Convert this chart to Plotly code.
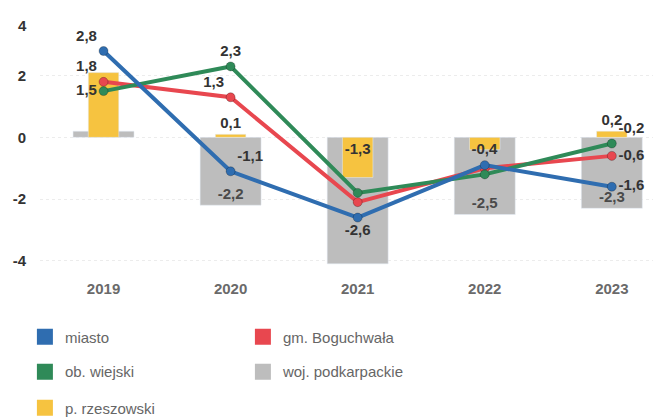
import plotly.graph_objects as go

years = ["2019", "2020", "2021", "2022", "2023"]
miasto = [2.8, -1.1, -2.6, -0.9, -1.6]
gm_boguchwala = [1.8, 1.3, -2.1, -1.0, -0.6]
ob_wiejski = [1.5, 2.3, -1.8, -1.2, -0.2]
woj_podkarpackie = [0.2, -2.2, -4.1, -2.5, -2.3]
p_rzeszowski = [2.1, 0.1, -1.3, -0.4, 0.2]

y_ticks = [-4, -2, 0, 2, 4]
y_ticktext = ["-4", "-2", "0", "2", "4"]

# which points carry a data label
miasto_lbl = [True, True, True, False, True]
gm_lbl = [True, True, False, False, True]
ob_lbl = [True, True, False, False, True]
woj_lbl = [False, True, False, True, True]
p_lbl = [False, True, True, True, True]

C_BLUE = "#2f6db0"
C_RED = "#e8474f"
C_GREEN = "#2f8a58"
C_GRAY = "#bdbdbd"
C_YELLOW = "#f6c340"

FONT = "Liberation Sans, Arial, sans-serif"


def fmt(v):
    return f"{v:.1f}".replace(".", ",")


def labels(vals, flags):
    return [fmt(v) if f else "" for v, f in zip(vals, flags)]


fig = go.Figure()

fig.add_trace(go.Bar(
    x=years, y=woj_podkarpackie, width=0.48, marker_color=C_GRAY,
    text=labels(woj_podkarpackie, woj_lbl), textposition="inside",
    insidetextanchor="end", textangle=0,
    textfont=dict(family=FONT, size=15, color="#4a4a4a", weight="bold"),
    showlegend=False, hoverinfo="skip"))

fig.add_trace(go.Bar(
    x=years, y=p_rzeszowski, width=0.24, marker_color=C_YELLOW,
    text=labels(p_rzeszowski, p_lbl),
    textposition=["none", "outside", "inside", "inside", "outside"],
    insidetextanchor="start", textangle=0, cliponaxis=False,
    constraintext="none",
    textfont=dict(family=FONT, size=15, color="#333333", weight="bold"),
    showlegend=False, hoverinfo="skip"))


def line(vals, color, flags, pos):
    fig.add_trace(go.Scatter(
        x=years, y=vals, mode="lines+markers+text",
        line=dict(color=color, width=4),
        marker=dict(color=color, size=9, line=dict(color="rgba(0,0,0,0.25)", width=1)),
        text=labels(vals, flags), textposition=pos, cliponaxis=False,
        textfont=dict(family=FONT, size=15, color="#333333", weight="bold"),
        showlegend=False, hoverinfo="skip"))


line(gm_boguchwala, C_RED, gm_lbl,
     ["top left", "top left", "top center", "top center", "middle right"])
line(ob_wiejski, C_GREEN, ob_lbl,
     ["middle left", "top center", "top center", "top center", "top right"])
line(miasto, C_BLUE, miasto_lbl,
     ["top left", "top right", "bottom center", "top center", "middle right"])

# legend entries
legend_items = [
    ("miasto", C_BLUE, "legend"),
    ("gm. Boguchwała", C_RED, "legend"),
    ("ob. wiejski", C_GREEN, "legend2"),
    ("woj. podkarpackie", C_GRAY, "legend2"),
    ("p. rzeszowski", C_YELLOW, "legend3"),
]
for name, color, lg in legend_items:
    fig.add_trace(go.Scatter(
        x=[None], y=[None], mode="markers", name=name,
        marker=dict(symbol="square", size=16, color=color),
        legend=lg, showlegend=True))

legend_common = dict(
    orientation="h", xanchor="left", yanchor="middle", x=-0.024,
    entrywidth=173, font=dict(family=FONT, size=15, color="#666666"),
    bgcolor="rgba(0,0,0,0)", itemsizing="trace")

# top tick label sits at the clipped top edge -> shown slightly lower, as in the source
top_text = y_ticktext[-1]
shown_ticktext = y_ticktext[:-1] + [""]

fig.update_layout(
    width=661, height=417,
    margin=dict(l=32, r=0, t=6, b=155, autoexpand=False),
    paper_bgcolor="white", plot_bgcolor="white",
    barmode="overlay",
    font=dict(family=FONT),
    legend=dict(y=-0.262, **legend_common),
    legend2=dict(y=-0.398, **legend_common),
    legend3=dict(y=-0.539, **legend_common),
    xaxis=dict(
        type="category", range=[-0.5, 4.45], showgrid=False,
        showline=False, ticks="", ticklabelstandoff=8,
        tickfont=dict(family=FONT, size=15, color="#6a6a6a", weight="bold")),
    yaxis=dict(
        range=[-4.3, 4.0], tickvals=y_ticks, ticktext=shown_ticktext,
        showgrid=True, gridcolor="#ececec", gridwidth=1, griddash="dot",
        zeroline=False, showline=False,
        ticks="outside", ticklen=10, tickcolor="rgba(0,0,0,0)",
        tickfont=dict(family=FONT, size=15, color="#333333", weight="bold")),
    annotations=[dict(
        x=0, xref="paper", y=y_ticks[-1], yref="y", text=top_text,
        showarrow=False, xanchor="right", yanchor="middle",
        xshift=-11, yshift=-11,
        font=dict(family=FONT, size=15, color="#333333", weight="bold"))],
)

fig.write_html("out.html")
